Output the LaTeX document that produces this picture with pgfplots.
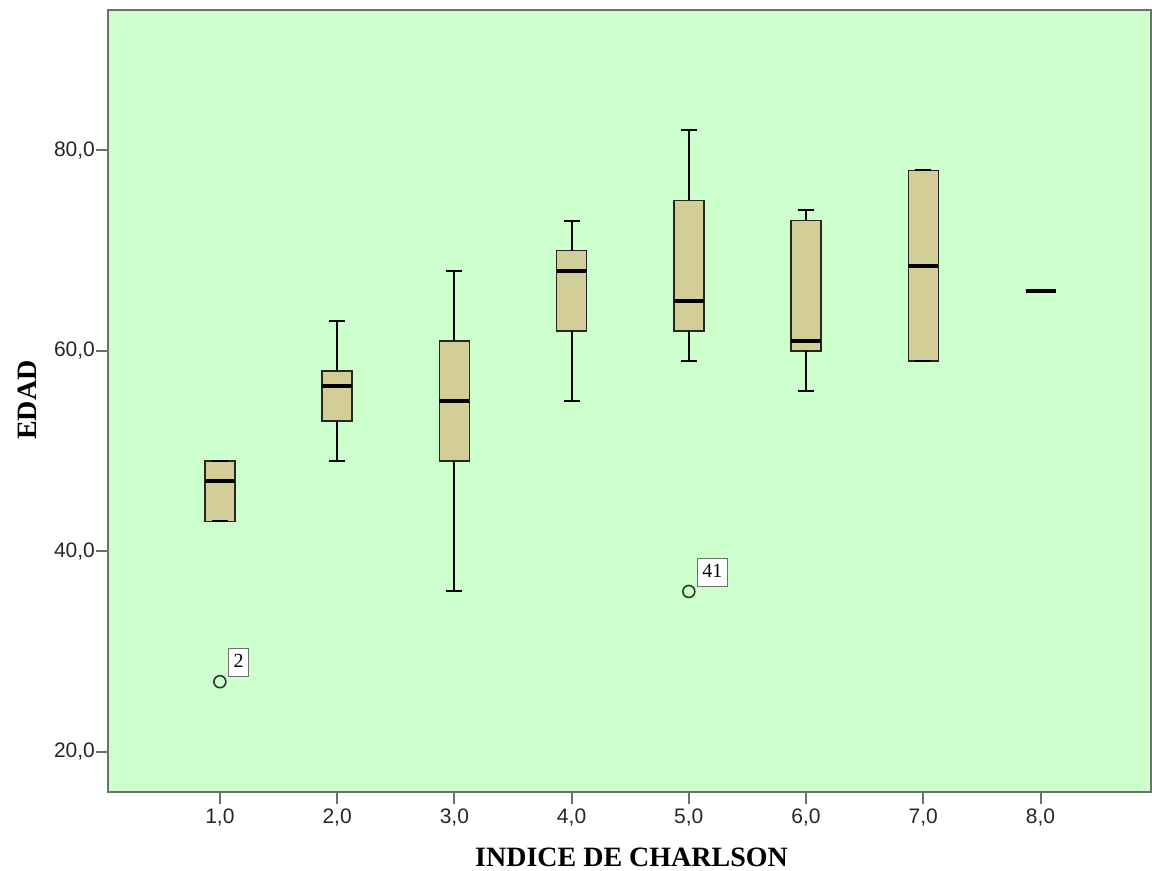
\documentclass[border=0pt]{standalone}
\usepackage{fontspec}
\setmainfont{Liberation Serif}
\setsansfont{Liberation Sans}
\usepackage{pgfplots}
\usepackage{pgfplotstable}
\pgfplotsset{compat=1.18}
\definecolor{bgcol}{HTML}{CCFFCC}
\definecolor{boxfill}{HTML}{D3CE97}
\definecolor{axcol}{HTML}{6E6E6E}
\pgfplotstableread{
x lw q1 med q3 uw
1 43 43 47 49 49
2 49 53 56.5 58 63
3 36 49 55 61 68
4 55 62 68 70 73
5 59 62 65 75 82
6 56 60 61 73 74
7 59 59 68.5 78 78
8 66 66 66 66 66
}\boxdata
\pgfplotstableread{
x y label
1 27 2
5 36 41
}\outdata
\begin{document}
\begin{tikzpicture}
\useasboundingbox (-54.15pt,-39.5pt) rectangle (521.85pt,396pt);
\begin{axis}[
  scale only axis,
  width=521.2pt, height=391pt,
  xmin=0.048, xmax=8.94,
  ymin=16, ymax=94,
  axis background/.style={fill=bgcol},
  axis line style={draw=axcol, line width=0.8pt},
  xtick={1,2,3,4,5,6,7,8},
  xticklabels={{1,0},{2,0},{3,0},{4,0},{5,0},{6,0},{7,0},{8,0}},
  ytick={20,40,60,80},
  yticklabels={{20,0},{40,0},{60,0},{80,0}},
  tick align=outside,
  major tick length=6pt,
  tick style={draw=axcol, line width=1pt},
  xtick pos=bottom, ytick pos=left,
  ticklabel style={font=\sffamily\fontsize{10.5}{12}\selectfont, text=black!85},
  yticklabel style={inner sep=0pt, anchor=east, xshift=-0.5pt},
  xticklabel style={inner sep=0pt, anchor=north, yshift=-2pt},
  xlabel={\textbf{INDICE DE CHARLSON}},
  ylabel={\textbf{EDAD}},
  label style={font=\fontsize{14}{16}\selectfont},
  xlabel style={at={(axis description cs:0.502,-0.083)}, anchor=center},
  ylabel style={at={(axis description cs:-0.078,0.501)}, anchor=center},
]
% boxes (Q1 to Q3)
\addplot[ybar, stack plots=y, bar shift=0pt, bar width=15pt, draw=none, fill=none, forget plot]
  table[x=x, y=q1] {\boxdata};
\addplot[ybar, stack plots=y, bar shift=0pt, bar width=15pt, draw=black!85, fill=boxfill, line width=0.7pt, forget plot]
  table[x=x, y expr=\thisrow{q3}-\thisrow{q1}] {\boxdata};
% upper whiskers
\addplot[stack plots=false, only marks, mark=*, mark size=0pt, mark options={draw=none, fill=none},
  error bars/.cd, y dir=plus, y explicit, error mark=none, error bar style={draw=black, line width=1pt}]
  table[x=x, y=q3, y error expr=\thisrow{uw}-\thisrow{q3}] {\boxdata};
% lower whiskers
\addplot[stack plots=false, only marks, mark=*, mark size=0pt, mark options={draw=none, fill=none},
  error bars/.cd, y dir=minus, y explicit, error mark=none, error bar style={draw=black, line width=1pt}]
  table[x=x, y=q1, y error expr=\thisrow{q1}-\thisrow{lw}] {\boxdata};
% whisker caps
\addplot[stack plots=false, only marks, mark=-, mark size=4pt, mark options={draw=black, line width=1pt}]
  table[x=x, y=uw] {\boxdata};
\addplot[stack plots=false, only marks, mark=-, mark size=4pt, mark options={draw=black, line width=1pt}]
  table[x=x, y=lw] {\boxdata};
% medians
\addplot[stack plots=false, only marks, mark=-, mark size=7.5pt, mark options={draw=black, line width=2pt}]
  table[x=x, y=med] {\boxdata};
% outliers
\addplot[stack plots=false, only marks, mark=o, mark size=3pt, mark options={draw=black!80, line width=0.8pt},
  point meta=explicit symbolic, nodes near coords,
  nodes near coords style={anchor=south west, draw=axcol, fill=white, line width=0.6pt,
    inner xsep=2.5pt, inner ysep=2pt, text height=7.5pt, text depth=2.5pt,
    font=\fontsize{10}{12}\selectfont, text=black, xshift=4pt, yshift=2.3pt}]
  table[x=x, y=y, meta=label] {\outdata};
\end{axis}
\end{tikzpicture}
\end{document}
